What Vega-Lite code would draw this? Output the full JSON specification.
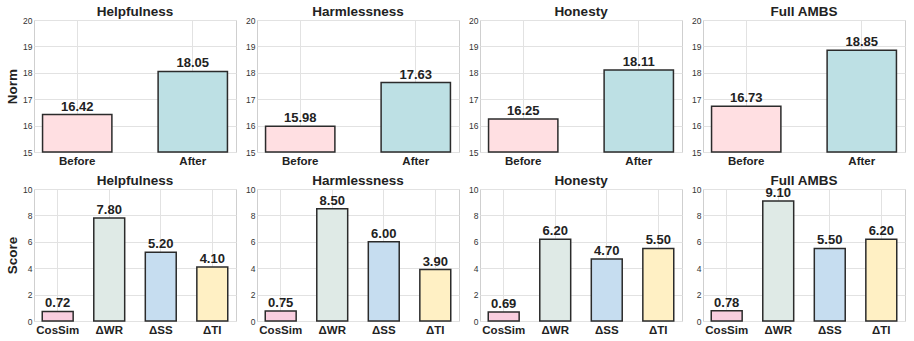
{
  "$schema": "https://vega.github.io/schema/vega-lite/v6.json",
  "padding": {"left": 5, "top": 4, "right": 4, "bottom": 2},
  "background": "white",
  "datasets": {
    "norm": [
      {"aspect": "Helpfulness", "stage": "Before", "norm": 16.42},
      {"aspect": "Helpfulness", "stage": "After", "norm": 18.05},
      {"aspect": "Harmlessness", "stage": "Before", "norm": 15.98},
      {"aspect": "Harmlessness", "stage": "After", "norm": 17.63},
      {"aspect": "Honesty", "stage": "Before", "norm": 16.25},
      {"aspect": "Honesty", "stage": "After", "norm": 18.11},
      {"aspect": "Full AMBS", "stage": "Before", "norm": 16.73},
      {"aspect": "Full AMBS", "stage": "After", "norm": 18.85}
    ],
    "score": [
      {"aspect": "Helpfulness", "metric": "CosSim", "score": 0.72},
      {"aspect": "Helpfulness", "metric": "ΔWR", "score": 7.80},
      {"aspect": "Helpfulness", "metric": "ΔSS", "score": 5.20},
      {"aspect": "Helpfulness", "metric": "ΔTI", "score": 4.10},
      {"aspect": "Harmlessness", "metric": "CosSim", "score": 0.75},
      {"aspect": "Harmlessness", "metric": "ΔWR", "score": 8.50},
      {"aspect": "Harmlessness", "metric": "ΔSS", "score": 6.00},
      {"aspect": "Harmlessness", "metric": "ΔTI", "score": 3.90},
      {"aspect": "Honesty", "metric": "CosSim", "score": 0.69},
      {"aspect": "Honesty", "metric": "ΔWR", "score": 6.20},
      {"aspect": "Honesty", "metric": "ΔSS", "score": 4.70},
      {"aspect": "Honesty", "metric": "ΔTI", "score": 5.50},
      {"aspect": "Full AMBS", "metric": "CosSim", "score": 0.78},
      {"aspect": "Full AMBS", "metric": "ΔWR", "score": 9.10},
      {"aspect": "Full AMBS", "metric": "ΔSS", "score": 5.50},
      {"aspect": "Full AMBS", "metric": "ΔTI", "score": 6.20}
    ]
  },
  "resolve": {"scale": {"color": "independent", "x": "independent", "y": "independent"}},
  "vconcat": [
    {
      "resolve": {"scale": {"color": "independent", "x": "independent", "y": "independent"}},
      "hconcat": [
        {
          "title": "Helpfulness", "width": 202, "height": 132,
          "data": {"name": "norm"},
          "transform": [{"filter": "datum.aspect === 'Helpfulness'"}],
          "encoding": {
            "x": {"field": "stage", "type": "nominal", "sort": ["Before", "After"], "scale": {"paddingInner": 0.4, "paddingOuter": 0.074}, "axis": {"title": null, "labelAngle": 0}},
            "y": {"field": "norm", "type": "quantitative", "scale": {"domain": [15, 20], "nice": false, "zero": false}, "axis": {"title": "Norm", "values": [15, 16, 17, 18, 19, 20]}}
          },
          "layer": [
            {"mark": {"type": "bar", "stroke": "#2b2b2b", "strokeWidth": 1.5}, "encoding": {"y2": {"datum": 15}, "color": {"field": "stage", "type": "nominal", "scale": {"domain": ["Before", "After"], "range": ["#FFDFE2", "#BDE0E4"]}, "legend": null}}},
            {"mark": {"type": "text", "dy": -4, "baseline": "alphabetic", "fontSize": 13, "fontWeight": "bold", "color": "#222"}, "encoding": {"text": {"field": "norm", "type": "quantitative", "format": ".2f"}}}
          ]
        },
        {
          "title": "Harmlessness", "width": 202, "height": 132,
          "data": {"name": "norm"},
          "transform": [{"filter": "datum.aspect === 'Harmlessness'"}],
          "encoding": {
            "x": {"field": "stage", "type": "nominal", "sort": ["Before", "After"], "scale": {"paddingInner": 0.4, "paddingOuter": 0.074}, "axis": {"title": null, "labelAngle": 0}},
            "y": {"field": "norm", "type": "quantitative", "scale": {"domain": [15, 20], "nice": false, "zero": false}, "axis": {"title": null, "values": [15, 16, 17, 18, 19, 20]}}
          },
          "layer": [
            {"mark": {"type": "bar", "stroke": "#2b2b2b", "strokeWidth": 1.5}, "encoding": {"y2": {"datum": 15}, "color": {"field": "stage", "type": "nominal", "scale": {"domain": ["Before", "After"], "range": ["#FFDFE2", "#BDE0E4"]}, "legend": null}}},
            {"mark": {"type": "text", "dy": -4, "baseline": "alphabetic", "fontSize": 13, "fontWeight": "bold", "color": "#222"}, "encoding": {"text": {"field": "norm", "type": "quantitative", "format": ".2f"}}}
          ]
        },
        {
          "title": "Honesty", "width": 202, "height": 132,
          "data": {"name": "norm"},
          "transform": [{"filter": "datum.aspect === 'Honesty'"}],
          "encoding": {
            "x": {"field": "stage", "type": "nominal", "sort": ["Before", "After"], "scale": {"paddingInner": 0.4, "paddingOuter": 0.074}, "axis": {"title": null, "labelAngle": 0}},
            "y": {"field": "norm", "type": "quantitative", "scale": {"domain": [15, 20], "nice": false, "zero": false}, "axis": {"title": null, "values": [15, 16, 17, 18, 19, 20]}}
          },
          "layer": [
            {"mark": {"type": "bar", "stroke": "#2b2b2b", "strokeWidth": 1.5}, "encoding": {"y2": {"datum": 15}, "color": {"field": "stage", "type": "nominal", "scale": {"domain": ["Before", "After"], "range": ["#FFDFE2", "#BDE0E4"]}, "legend": null}}},
            {"mark": {"type": "text", "dy": -4, "baseline": "alphabetic", "fontSize": 13, "fontWeight": "bold", "color": "#222"}, "encoding": {"text": {"field": "norm", "type": "quantitative", "format": ".2f"}}}
          ]
        },
        {
          "title": "Full AMBS", "width": 202, "height": 132,
          "data": {"name": "norm"},
          "transform": [{"filter": "datum.aspect === 'Full AMBS'"}],
          "encoding": {
            "x": {"field": "stage", "type": "nominal", "sort": ["Before", "After"], "scale": {"paddingInner": 0.4, "paddingOuter": 0.074}, "axis": {"title": null, "labelAngle": 0}},
            "y": {"field": "norm", "type": "quantitative", "scale": {"domain": [15, 20], "nice": false, "zero": false}, "axis": {"title": null, "values": [15, 16, 17, 18, 19, 20]}}
          },
          "layer": [
            {"mark": {"type": "bar", "stroke": "#2b2b2b", "strokeWidth": 1.5}, "encoding": {"y2": {"datum": 15}, "color": {"field": "stage", "type": "nominal", "scale": {"domain": ["Before", "After"], "range": ["#FFDFE2", "#BDE0E4"]}, "legend": null}}},
            {"mark": {"type": "text", "dy": -4, "baseline": "alphabetic", "fontSize": 13, "fontWeight": "bold", "color": "#222"}, "encoding": {"text": {"field": "norm", "type": "quantitative", "format": ".2f"}}}
          ]
        }
      ]
    },
    {
      "resolve": {"scale": {"color": "independent", "x": "independent", "y": "independent"}},
      "hconcat": [
        {
          "title": "Helpfulness", "width": 202, "height": 132,
          "data": {"name": "score"},
          "transform": [{"filter": "datum.aspect === 'Helpfulness'"}],
          "encoding": {
            "x": {"field": "metric", "type": "nominal", "sort": ["CosSim", "ΔWR", "ΔSS", "ΔTI"], "scale": {"paddingInner": 0.4, "paddingOuter": 0.16}, "axis": {"title": null, "labelAngle": 0}},
            "y": {"field": "score", "type": "quantitative", "scale": {"domain": [0, 10], "nice": false}, "axis": {"title": "Score", "values": [0, 2, 4, 6, 8, 10]}}
          },
          "layer": [
            {"mark": {"type": "bar", "stroke": "#2b2b2b", "strokeWidth": 1.5}, "encoding": {"color": {"field": "metric", "type": "nominal", "scale": {"domain": ["CosSim", "ΔWR", "ΔSS", "ΔTI"], "range": ["#F9CEDF", "#DFEAE6", "#C6DDF0", "#FFF0C4"]}, "legend": null}}},
            {"mark": {"type": "text", "dy": -4, "baseline": "alphabetic", "fontSize": 13, "fontWeight": "bold", "color": "#222"}, "encoding": {"text": {"field": "score", "type": "quantitative", "format": ".2f"}}}
          ]
        },
        {
          "title": "Harmlessness", "width": 202, "height": 132,
          "data": {"name": "score"},
          "transform": [{"filter": "datum.aspect === 'Harmlessness'"}],
          "encoding": {
            "x": {"field": "metric", "type": "nominal", "sort": ["CosSim", "ΔWR", "ΔSS", "ΔTI"], "scale": {"paddingInner": 0.4, "paddingOuter": 0.16}, "axis": {"title": null, "labelAngle": 0}},
            "y": {"field": "score", "type": "quantitative", "scale": {"domain": [0, 10], "nice": false}, "axis": {"title": null, "values": [0, 2, 4, 6, 8, 10]}}
          },
          "layer": [
            {"mark": {"type": "bar", "stroke": "#2b2b2b", "strokeWidth": 1.5}, "encoding": {"color": {"field": "metric", "type": "nominal", "scale": {"domain": ["CosSim", "ΔWR", "ΔSS", "ΔTI"], "range": ["#F9CEDF", "#DFEAE6", "#C6DDF0", "#FFF0C4"]}, "legend": null}}},
            {"mark": {"type": "text", "dy": -4, "baseline": "alphabetic", "fontSize": 13, "fontWeight": "bold", "color": "#222"}, "encoding": {"text": {"field": "score", "type": "quantitative", "format": ".2f"}}}
          ]
        },
        {
          "title": "Honesty", "width": 202, "height": 132,
          "data": {"name": "score"},
          "transform": [{"filter": "datum.aspect === 'Honesty'"}],
          "encoding": {
            "x": {"field": "metric", "type": "nominal", "sort": ["CosSim", "ΔWR", "ΔSS", "ΔTI"], "scale": {"paddingInner": 0.4, "paddingOuter": 0.16}, "axis": {"title": null, "labelAngle": 0}},
            "y": {"field": "score", "type": "quantitative", "scale": {"domain": [0, 10], "nice": false}, "axis": {"title": null, "values": [0, 2, 4, 6, 8, 10]}}
          },
          "layer": [
            {"mark": {"type": "bar", "stroke": "#2b2b2b", "strokeWidth": 1.5}, "encoding": {"color": {"field": "metric", "type": "nominal", "scale": {"domain": ["CosSim", "ΔWR", "ΔSS", "ΔTI"], "range": ["#F9CEDF", "#DFEAE6", "#C6DDF0", "#FFF0C4"]}, "legend": null}}},
            {"mark": {"type": "text", "dy": -4, "baseline": "alphabetic", "fontSize": 13, "fontWeight": "bold", "color": "#222"}, "encoding": {"text": {"field": "score", "type": "quantitative", "format": ".2f"}}}
          ]
        },
        {
          "title": "Full AMBS", "width": 202, "height": 132,
          "data": {"name": "score"},
          "transform": [{"filter": "datum.aspect === 'Full AMBS'"}],
          "encoding": {
            "x": {"field": "metric", "type": "nominal", "sort": ["CosSim", "ΔWR", "ΔSS", "ΔTI"], "scale": {"paddingInner": 0.4, "paddingOuter": 0.16}, "axis": {"title": null, "labelAngle": 0}},
            "y": {"field": "score", "type": "quantitative", "scale": {"domain": [0, 10], "nice": false}, "axis": {"title": null, "values": [0, 2, 4, 6, 8, 10]}}
          },
          "layer": [
            {"mark": {"type": "bar", "stroke": "#2b2b2b", "strokeWidth": 1.5}, "encoding": {"color": {"field": "metric", "type": "nominal", "scale": {"domain": ["CosSim", "ΔWR", "ΔSS", "ΔTI"], "range": ["#F9CEDF", "#DFEAE6", "#C6DDF0", "#FFF0C4"]}, "legend": null}}},
            {"mark": {"type": "text", "dy": -4, "baseline": "alphabetic", "fontSize": 13, "fontWeight": "bold", "color": "#222"}, "encoding": {"text": {"field": "score", "type": "quantitative", "format": ".2f"}}}
          ]
        }
      ]
    }
  ],
  "spacing": 6,
  "config": {
    "font": "Liberation Sans",
    "concat": {"spacing": 8},
    "view": {"stroke": "#cfcfcf", "strokeWidth": 1},
    "title": {"fontSize": 13.5, "fontWeight": "bold", "color": "#222", "offset": -2, "font": "Liberation Sans"},
    "axis": {"grid": true, "gridColor": "#e2e2e2", "gridWidth": 1, "domain": false, "ticks": false, "labelFont": "Liberation Sans", "titleFont": "Liberation Sans"},
    "axisX": {"labelFontSize": 11.5, "labelFontWeight": "bold", "labelColor": "#222", "labelPadding": 3},
    "axisY": {"labelFontSize": 8.5, "labelColor": "#333", "labelPadding": 2, "titleFontSize": 13.5, "titleFontWeight": "bold", "titleColor": "#222", "titlePadding": 3}
  }
}
